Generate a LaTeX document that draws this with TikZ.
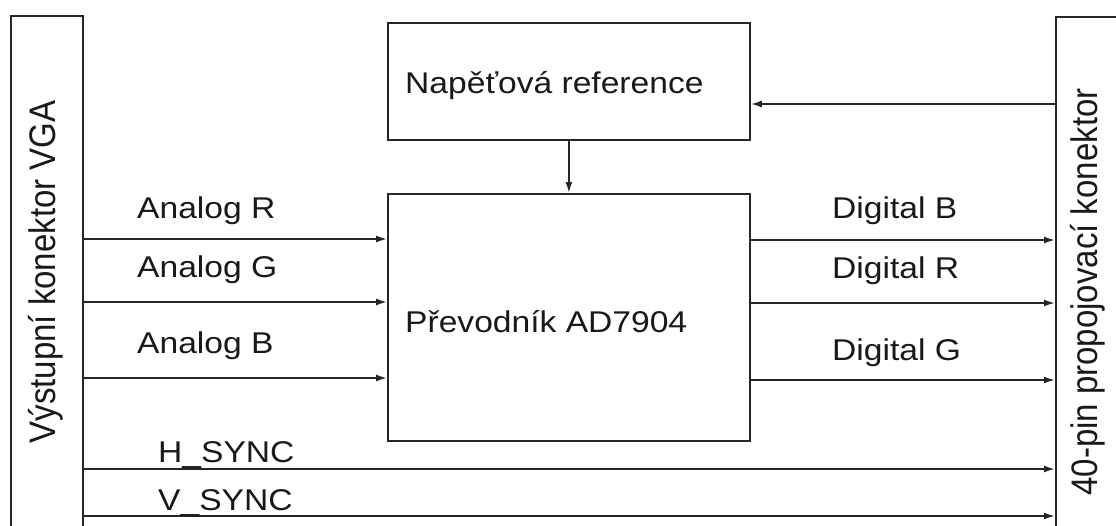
\documentclass[tikz,border=0pt]{standalone}
\usepackage{fontspec}
\usepackage{graphicx}
\setmainfont{Liberation Sans}
\usetikzlibrary{arrows.meta}
\newcommand\hsx[1]{\scalebox{1.12}[1]{#1}}
\newcommand\vsx[1]{\scalebox{1}[1.12]{#1}}
\begin{document}
\begin{tikzpicture}[x=1pt,y=-1pt,
  line/.style={line width=1.8pt, draw=black!85},
  arr/.style={line, -{Latex[length=11pt,width=7pt]}},
  blk/.style={line, rectangle, inner sep=0pt, anchor=north west},
  lbl/.style={anchor=base west, inner sep=0pt, font=\fontsize{30}{36}\selectfont, text=black!90},
  vlbl/.style={rotate=90, inner sep=0pt, font=\fontsize{33}{40}\selectfont, text=black!90}]
\useasboundingbox (0,0) rectangle (1116,525);
\fill[white] (0,0) rectangle (1116,525);
\clip (0,0) rectangle (1116,525);
% blocks
\node[blk, minimum width=72pt, minimum height=540pt] (vga) at (10,15) {};
\node[blk, minimum width=362pt, minimum height=117pt] (ref) at (387,22) {};
\node[blk, minimum width=362pt, minimum height=247pt] (adc) at (387,193) {};
\node[blk, minimum width=90pt, minimum height=540pt] (pin) at (1055,16) {};
% block texts
\node[vlbl] (tvga) at (46,272) {\vsx{Výstupní konektor VGA}};
\node[vlbl] (tpin) at (1088,292) {\vsx{40-pin propojovací konektor}};
\node[lbl] (tref) at (405,93) {\hsx{Napěťová reference}};
\node[lbl] (tadc) at (405,332) {\hsx{Převodník AD7904}};
% line levels
\coordinate (yref) at (0,104);
\coordinate (yAR) at (0,239);
\coordinate (yAG) at (0,302);
\coordinate (yAB) at (0,378);
\coordinate (yDB) at (0,240);
\coordinate (yDR) at (0,303);
\coordinate (yDG) at (0,380);
\coordinate (yH) at (0,469);
\coordinate (yV) at (0,516);
% connectors
\draw[arr] (pin.west |- yref) -- (ref.east |- yref);
\draw[arr] (ref.south) -- (adc.north);
\draw[arr] (vga.east |- yAR) -- (adc.west |- yAR);
\draw[arr] (vga.east |- yAG) -- (adc.west |- yAG);
\draw[arr] (vga.east |- yAB) -- (adc.west |- yAB);
\draw[arr] (adc.east |- yDB) -- (pin.west |- yDB);
\draw[arr] (adc.east |- yDR) -- (pin.west |- yDR);
\draw[arr] (adc.east |- yDG) -- (pin.west |- yDG);
\draw[arr] (vga.east |- yH) -- (pin.west |- yH);
\draw[arr] (vga.east |- yV) -- (pin.west |- yV);
% labels
\node[lbl] (lAR) at (137,218) {\hsx{Analog R}};
\node[lbl] (lAG) at (137,277) {\hsx{Analog G}};
\node[lbl] (lAB) at (137,353) {\hsx{Analog B}};
\node[lbl] (lDB) at (832,218) {\hsx{Digital B}};
\node[lbl] (lDR) at (832,278) {\hsx{Digital R}};
\node[lbl] (lDG) at (832,360) {\hsx{Digital G}};
\node[lbl] (lH) at (158,462) {\hsx{H\_SYNC}};
\node[lbl] (lV) at (158,510) {\hsx{V\_SYNC}};
\end{tikzpicture}
\end{document}
